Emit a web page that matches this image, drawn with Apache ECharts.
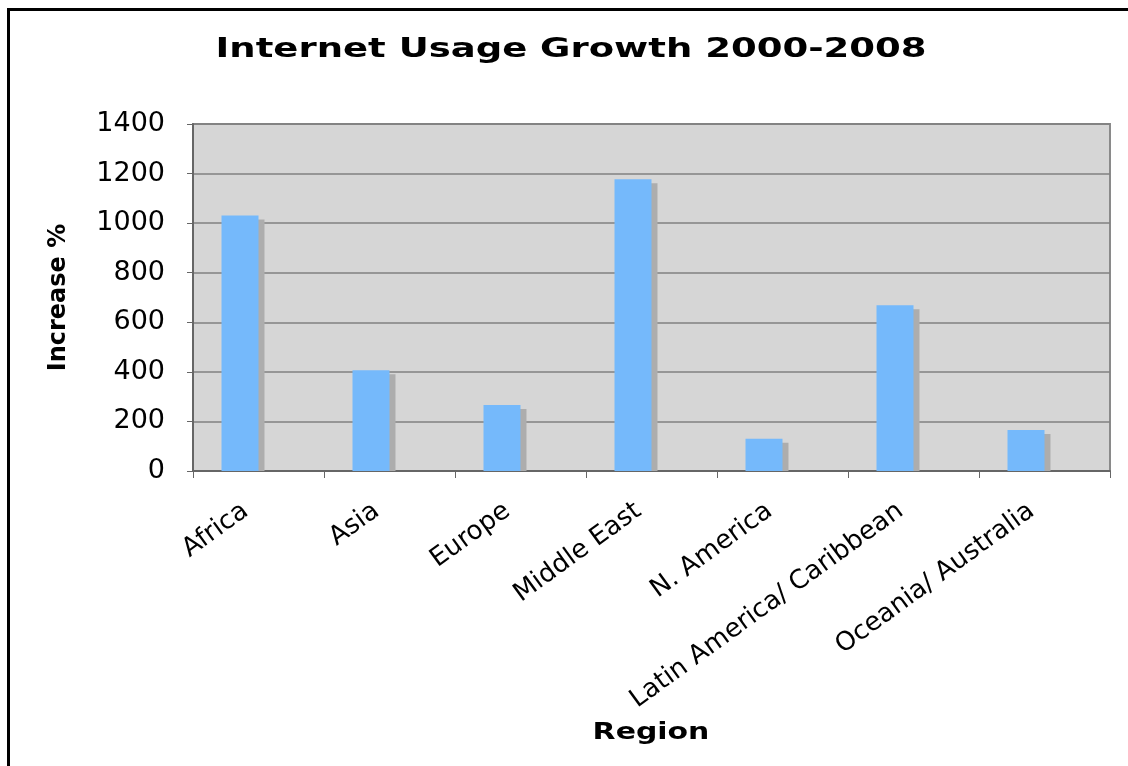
<!DOCTYPE html>
<html>
<head>
<meta charset="utf-8">
<script src="https://cdn.jsdelivr.net/npm/echarts@6/dist/echarts.min.js"></script>
<style>
	html,body{margin:0;padding:0;background:#fff;overflow:hidden;}
	#chart{width:1128px;height:766px;}
</style>
</head>
<body>
<div id="chart"></div>
<script>
	// regions and growth in %, 2000-2008
	var regions = ['Africa','Asia','Europe','Middle East','N. America','Latin America/ Caribbean','Oceania/ Australia'];
	var growth = [1031, 406, 266, 1177, 130, 669, 165];
	var yTicks = [0, 200, 400, 600, 800, 1000, 1200, 1400];

	var barW = 37;
	var chart = echarts.init(document.getElementById('chart'));
	var font = 'DejaVu Sans, Verdana, sans-serif';

	var barData = [];
	for(var i in growth){
		barData.push([i*1, growth[i]]);
	}

	// bar + drop shadow, bar sits left of the category centre (empty 2nd series in the original)
	function renderBar(params, api){
		var base = api.coord([api.value(0), 0]);
		var top = api.coord([api.value(0), api.value(1)]);
		var x = base[0] - barW;
		var h = base[1] - top[1];
		return {
			type:'group',
			children:[
				{type:'rect', shape:{x:x+6, y:top[1]+4, width:barW, height:h-4}, style:{fill:'#adadad'}},
				{type:'rect', shape:{x:x, y:top[1], width:barW, height:h}, style:{fill:'#75b9fb'}}
			]
		};
	}

	var option = {
		animation:false,
		backgroundColor:'#fff',
		graphic:[
			// page frame: only left and top edges are visible
			{type:'rect', shape:{x:7, y:8, width:3, height:760}, style:{fill:'#000'}, silent:true},
			{type:'rect', shape:{x:7, y:8, width:1121, height:3}, style:{fill:'#000'}, silent:true},
			{
				type:'text',
				x:571, y:50,
				scaleX:1.37,
				style:{
					text:'Internet Usage Growth 2000-2008',
					font:'bold 27px DejaVu Sans, Verdana, sans-serif',
					fill:'#000',
					align:'center',
					verticalAlign:'middle'
				}
			},
			{
				type:'text',
				x:651, y:733,
				scaleX:1.3,
				style:{
					text:'Region',
					font:'bold 23px DejaVu Sans, Verdana, sans-serif',
					fill:'#000',
					align:'center',
					verticalAlign:'middle'
				}
			}
		],
		grid:{
			left:193,
			right:18,
			top:124,
			bottom:295,
			show:true,
			backgroundColor:'#d6d6d6',
			borderColor:'#8a8a8a',
			borderWidth:2
		},
		xAxis:{
			type:'category',
			data:regions,
			boundaryGap:true,
			axisLine:{lineStyle:{color:'#666', width:2}},
			axisTick:{show:true, length:7, lineStyle:{color:'#666'}},
			axisLabel:{
				rotate:36,
				margin:28,
				padding:[0,16,0,0],
				interval:0,
				color:'#000',
				fontFamily:font,
				fontSize:26
			}
		},
		yAxis:{
			type:'value',
			min:yTicks[0],
			max:yTicks[yTicks.length-1],
			interval:200,
			name:'Increase %',
			nameLocation:'middle',
			nameGap:122,
			nameTextStyle:{color:'#000', fontFamily:font, fontWeight:'bold', fontSize:24},
			axisLine:{show:true, lineStyle:{color:'#666', width:2}},
			axisTick:{show:true, length:6, lineStyle:{color:'#666'}},
			axisLabel:{
				color:'#000', fontFamily:font, fontSize:27, margin:28,
				formatter:function(v){ return '' + v; }
			},
			splitLine:{lineStyle:{color:'#808080', width:1.5}}
		},
		series:[
			{
				name:'Increase %',
				type:'custom',
				renderItem:renderBar,
				encode:{x:0, y:1},
				data:barData
			}
		]
	};
	chart.setOption(option);
</script>
</body>
</html>
